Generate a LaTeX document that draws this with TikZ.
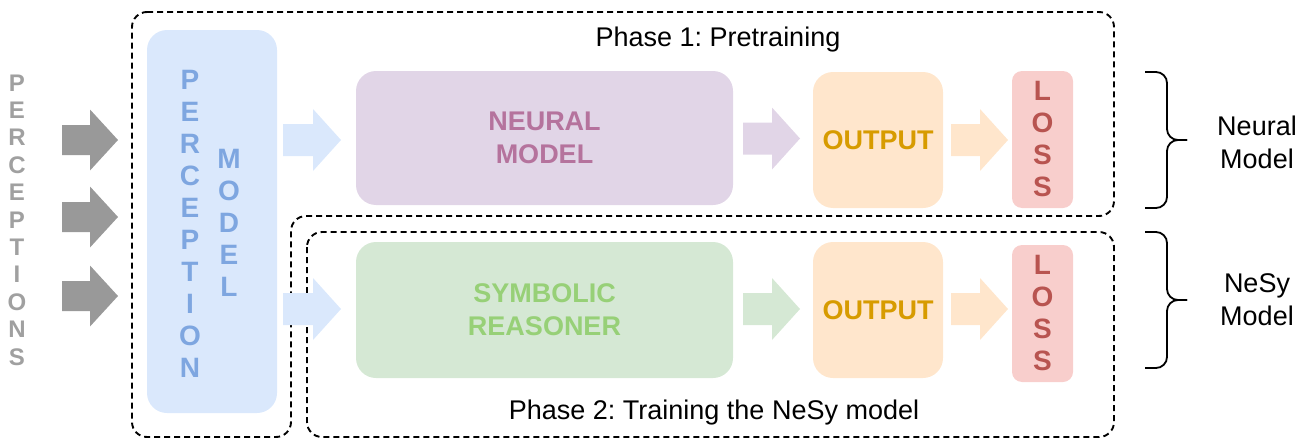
\documentclass[tikz,border=0pt]{standalone}
\usepackage{fontspec}
\setmainfont{Liberation Sans}
\frenchspacing
\usetikzlibrary{calc}
\definecolor{pmfill}{HTML}{DAE8FC}
\definecolor{pmtext}{HTML}{7EA6E0}
\definecolor{nmfill}{HTML}{E1D5E7}
\definecolor{nmtext}{HTML}{B5739D}
\definecolor{srfill}{HTML}{D5E8D4}
\definecolor{srtext}{HTML}{97D077}
\definecolor{oufill}{HTML}{FFE6CC}
\definecolor{outext}{HTML}{D79B00}
\definecolor{lsfill}{HTML}{F8CECC}
\definecolor{lstext}{HTML}{B85450}
\definecolor{grayarrow}{HTML}{999999}
\definecolor{graytext}{HTML}{A0A0A0}
\newcommand\blockarrow[5]{% color, start, end, body half, head half
  \fill[#1] let \p1=(#2), \p2=(#3) in
    (\x1,\y1+#4) -- (\x2-28pt,\y1+#4) -- (\x2-28pt,\y1+#5) -- (\x2,\y1)
    -- (\x2-28pt,\y1-#5) -- (\x2-28pt,\y1-#4) -- (\x1,\y1-#4) -- cycle;}
\tikzset{
  box/.style={rounded corners=20pt, inner sep=0pt, draw=none, align=center,
    font=\fontsize{27}{33}\selectfont\bfseries},
  lossbox/.style={rounded corners=10pt, inner sep=0pt, fill=lsfill, draw=none,
    minimum width=61pt, minimum height=137pt},
  vletters/.style={inner sep=0pt, align=center, font=\fontsize{28}{32}\selectfont\bfseries},
  phase/.style={dash pattern=on 6pt off 4pt, line width=1.9pt, rounded corners=15pt},
  plain/.style={inner sep=0pt, align=center, font=\fontsize{27}{33}\selectfont},
  bracepath/.style={line width=1.8pt, rounded corners=11pt}
}
\begin{document}
\begin{tikzpicture}[x=1pt,y=-1pt]
\useasboundingbox (0,0) rectangle (1307,439);
% dashed phase frames
\draw[phase] (132,12) -- (1114,12) -- (1114,216) -- (291,216) -- (291,437) -- (132,437) -- cycle;
\draw[phase] (307,232) rectangle (1114,437);
% boxes
\node[box, fill=pmfill, minimum width=130pt, minimum height=383pt] (pm) at (212,221.5) {};
\node[box, fill=nmfill, text=nmtext, minimum width=377pt, minimum height=134pt] (nm) at (544.5,138) {NEURAL\\MODEL};
\node[box, fill=srfill, text=srtext, minimum width=377pt, minimum height=136pt] (sr) at (544.5,310) {SYMBOLIC\\REASONER};
\node[box, fill=oufill, text=outext, minimum width=130pt, minimum height=136pt] (o1) at (878,140) {OUTPUT};
\node[box, fill=oufill, text=outext, minimum width=130pt, minimum height=136pt] (o2) at (878,310) {OUTPUT};
\node[lossbox] (l1) at (1042.5,139.5) {};
\node[lossbox] (l2) at (1042.5,313.5) {};
% vertical letter texts
\node[vletters, text=graytext, font=\fontsize{24}{27.4}\selectfont\bfseries] (perc) at (17,220) {P\\E\\R\\C\\E\\P\\T\\I\\O\\N\\S};
\node[vletters, text=pmtext] (pmt1) at (190,223.5) {P\\E\\R\\C\\E\\P\\T\\I\\O\\N};
\node[vletters, text=pmtext] (pmt2) at (229,222.5) {M\\O\\D\\E\\L};
\node[vletters, text=lstext] (lt1) at (l1) {L\\O\\S\\S};
\node[vletters, text=lstext] (lt2) at (l2) {L\\O\\S\\S};
% labels
\node[plain] (ph1) at (718,40) {Phase 1: Pretraining};
\node[plain] (ph2) at (714,413) {Phase 2: Training the NeSy model};
\node[plain] (nlab) at (1257,142) {Neural\\Model};
\node[plain] (slab) at (1257,300) {NeSy\\Model};
% arrow end points
\coordinate (g1s) at (62,140);  \coordinate (g1e) at (118,140);
\coordinate (g2s) at (62,217);  \coordinate (g2e) at (118,217);
\coordinate (g3s) at (62,296);  \coordinate (g3e) at (118,296);
\coordinate (b1s) at (283,140); \coordinate (b1e) at (341,140);
\coordinate (b2s) at (283,309); \coordinate (b2e) at (341,309);
\coordinate (p1s) at (743,138.5); \coordinate (p1e) at (800,138.5);
\coordinate (r1s) at (951,140); \coordinate (r1e) at (1008,140);
\coordinate (q2s) at (743,309); \coordinate (q2e) at (800,309);
\coordinate (r2s) at (951,309); \coordinate (r2e) at (1008,309);
\blockarrow{grayarrow}{g1s}{g1e}{15pt}{30.5pt}
\blockarrow{grayarrow}{g2s}{g2e}{15pt}{30.5pt}
\blockarrow{grayarrow}{g3s}{g3e}{15pt}{30.5pt}
\blockarrow{pmfill}{b1s}{b1e}{16pt}{31pt}
\blockarrow{pmfill}{b2s}{b2e}{16pt}{31pt}
\blockarrow{nmfill}{p1s}{p1e}{16pt}{31pt}
\blockarrow{oufill}{r1s}{r1e}{16pt}{31pt}
\blockarrow{srfill}{q2s}{q2e}{16pt}{31pt}
\blockarrow{oufill}{r2s}{r2e}{16pt}{31pt}
% braces
\coordinate (bt1) at (1187,140);
\coordinate (bt2) at (1187,300);
\draw[bracepath] (1145,72) -- (1167,72) -- (1167,140) -- (bt1);
\draw[bracepath] (1145,208) -- (1167,208) -- (1167,140) -- (bt1);
\draw[bracepath] (1145,232) -- (1167,232) -- (1167,300) -- (bt2);
\draw[bracepath] (1145,368) -- (1167,368) -- (1167,300) -- (bt2);
\end{tikzpicture}
\end{document}
